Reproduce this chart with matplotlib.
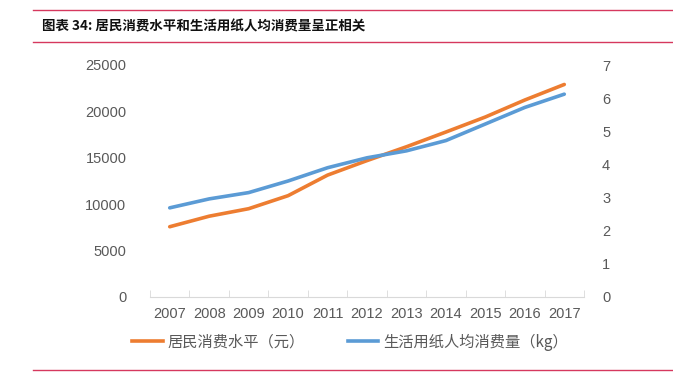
import matplotlib
matplotlib.use("Agg")
import matplotlib.pyplot as plt
from matplotlib.lines import Line2D

plt.rcParams['font.family'] = ['Noto Sans CJK SC', 'DejaVu Sans']

years = ['2007', '2008', '2009', '2010', '2011', '2012', '2013', '2014', '2015', '2016', '2017']
consumption = [7572, 8707, 9514, 10919, 13134, 14699, 16190, 17778, 19397, 21228, 22902]
paper_kg = [2.69, 2.96, 3.15, 3.50, 3.90, 4.20, 4.41, 4.72, 5.22, 5.72, 6.12]
left_ticks = [0, 5000, 10000, 15000, 20000, 25000]
right_ticks = [0, 1, 2, 3, 4, 5, 6, 7]
title = '图表 34: 居民消费水平和生活用纸人均消费量呈正相关'
label_a = '居民消费水平（元）'
label_b = '生活用纸人均消费量（kg）'

W, H = 673, 375
fig = plt.figure(figsize=(W / 100, H / 100), dpi=100)

orange = '#ED7D31'
blue = '#5B9BD5'
grey = '#595959'
red = '#D6385E'
numfont = ['Liberation Sans', 'DejaVu Sans']

ax = fig.add_axes([150 / W, 1 - 297 / H, (584 - 150) / W, (297 - 65) / H])
x = list(range(len(years)))
ax.plot(x, consumption, color=orange, lw=2.6, solid_capstyle='round')
ax.set_ylim(0, 25000)
ax.set_yticks(left_ticks)
ax.set_xlim(-0.5, len(years) - 0.5)
ax.set_xticks(x)
ax.set_xticklabels(years)
ax.set_xticks([i - 0.5 for i in range(len(years) + 1)], minor=True)
ax.tick_params(axis='x', which='major', length=0, pad=7, labelsize=10.5, colors=grey)
ax.tick_params(axis='x', which='minor', length=5, color='#D9D9D9', direction='in')
ax.tick_params(axis='y', length=0, pad=17, labelsize=10.5, colors=grey)
for lab in ax.get_xticklabels() + ax.get_yticklabels():
    lab.set_family(numfont)
for s in ['top', 'right', 'left']:
    ax.spines[s].set_visible(False)
ax.spines['bottom'].set_color('#D9D9D9')

ax2 = ax.twinx()
ax2.plot(x, paper_kg, color=blue, lw=2.6, solid_capstyle='round')
ax2.set_ylim(0, 7)
ax2.set_yticks(right_ticks)
ax2.tick_params(axis='y', length=0, pad=13, labelsize=10.5, colors=grey)
for lab in ax2.get_yticklabels():
    lab.set_family(numfont)
for s in ['top', 'right', 'left', 'bottom']:
    ax2.spines[s].set_visible(False)

handles = [Line2D([], [], color=orange, lw=2.6), Line2D([], [], color=blue, lw=2.6)]
fig.legend(handles, [label_a, label_b], loc='center', bbox_to_anchor=(350 / W, 1 - 342 / H),
           ncol=2, frameon=False, fontsize=11, handlelength=2.0, columnspacing=2.8,
           labelcolor=grey, handletextpad=0.3)

# title and decorative lines
fig.add_artist(Line2D([33 / W, 1], [1 - 10 / H, 1 - 10 / H], color=red, lw=1.0))
fig.add_artist(Line2D([33 / W, 1], [1 - 42 / H, 1 - 42 / H], color=red, lw=1.0))
fig.add_artist(Line2D([33 / W, 1], [1 - 370 / H, 1 - 370 / H], color=red, lw=1.0))
fig.text(42 / W, 1 - 26 / H, title, fontsize=9.7, fontweight='bold', color='#111111',
         va='center', ha='left', style='italic')

fig.savefig('out.png', dpi=100)
